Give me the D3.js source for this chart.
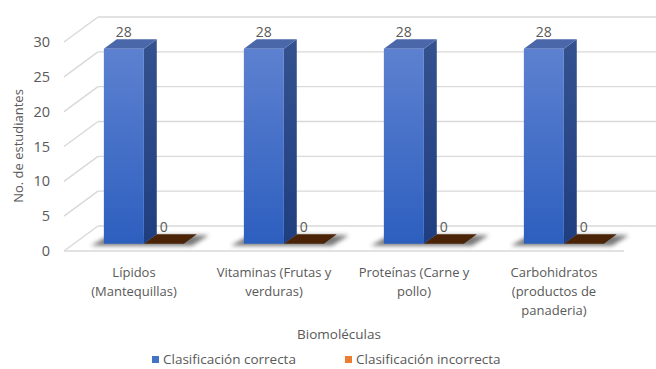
<!DOCTYPE html>
<html>
<head>
<meta charset="utf-8">
<script src="https://cdn.jsdelivr.net/npm/d3@7"></script>
<style>
  html, body { margin: 0; padding: 0; background: #ffffff; }
  svg { display: block; }
  text { font-family: "Open Sans", "Noto Sans", sans-serif; fill: #595959; }
</style>
</head>
<body>
<svg id="chart" width="656" height="369"></svg>
<script>
// ---------- data ----------
const categories = ["Lípidos (Mantequillas)", "Vitaminas (Frutas y verduras)", "Proteínas (Carne y pollo)", "Carbohidratos (productos de panaderia)"];
const categoryLines = [
  ["Lípidos", "(Mantequillas)"],
  ["Vitaminas (Frutas y", "verduras)"],
  ["Proteínas (Carne y", "pollo)"],
  ["Carbohidratos", "(productos de", "panaderia)"]
];
const seriesNames = ["Clasificación correcta", "Clasificación incorrecta"];
const correcta = [28, 28, 28, 28];
const incorrecta = [0, 0, 0, 0];
const yTicks = [0, 5, 10, 15, 20, 25, 30];
const yTitle = "No. de estudiantes";
const xTitle = "Biomoléculas";

// ---------- layout ----------
const svg = d3.select("#chart");
const W = 656, H = 369;
const DX = 34, DY = -25;          // depth vector (front -> back wall)
const D1 = 0.29, D2 = 0.67;        // bar depth span
const x0 = d3.scaleBand().domain(categories).range([64, 624]);
const x1 = d3.scaleBand().domain(seriesNames).range([0, x0.bandwidth()]).paddingInner(0).paddingOuter(0.75);
const y = d3.scaleLinear().domain([0, 30]).range([251, 42]);
const P = (x, yy, d) => [x + d * DX, yy + d * DY];
const poly = pts => pts.map(p => p.join(",")).join(" ");

const defs = svg.append("defs");
const gFront = defs.append("linearGradient").attr("id", "gFront").attr("x1", 0).attr("y1", 0).attr("x2", 0).attr("y2", 1);
gFront.append("stop").attr("offset", 0).attr("stop-color", "#5d81d0");
gFront.append("stop").attr("offset", 1).attr("stop-color", "#2d5fbf");
const gSide = defs.append("linearGradient").attr("id", "gSide").attr("x1", 0).attr("y1", 0).attr("x2", 0).attr("y2", 1);
gSide.append("stop").attr("offset", 0).attr("stop-color", "#35528f");
gSide.append("stop").attr("offset", 1).attr("stop-color", "#1f3e80");
const blur = defs.append("filter").attr("id", "blur").attr("x", "-20%").attr("y", "-50%").attr("width", "140%").attr("height", "200%");
blur.append("feGaussianBlur").attr("stdDeviation", 2.2);

const grid = svg.append("g");
const xL = x0.range()[0], xR = x0.range()[1];
// back wall gridlines and left-side diagonals
yTicks.forEach(v => {
  const f = [xL, y(v)];
  const b = P(xL, y(v), 1);
  grid.append("line").attr("x1", f[0]).attr("y1", f[1]).attr("x2", b[0]).attr("y2", b[1])
    .attr("stroke", "#d9d9d9").attr("stroke-width", 1.4);
  grid.append("line").attr("x1", b[0]).attr("y1", b[1]).attr("x2", W).attr("y2", b[1])
    .attr("stroke", "#d9d9d9").attr("stroke-width", 1.4);
});
// floor front edge
grid.append("line").attr("x1", xL).attr("y1", y(0)).attr("x2", xR).attr("y2", y(0))
  .attr("stroke", "#d9d9d9").attr("stroke-width", 1.4);

// y tick labels
svg.append("g").selectAll("text").data(yTicks).join("text")
  .attr("x", 50).attr("y", d => y(d)).attr("dy", "0.35em")
  .attr("text-anchor", "end").style("font-size", "14.5px").text(d => d);

// y title
svg.append("text").attr("transform", "translate(18,146) rotate(-90)")
  .attr("text-anchor", "middle").attr("dy", "0.35em").style("font-size", "13px").text(yTitle);

// bars
const bars = svg.append("g");
categories.forEach((c, i) => {
  const xa = x0(c) + x1(seriesNames[0]);
  const xb = x0(c) + x1(seriesNames[1]);
  const w = x1.bandwidth();
  const y0 = y(0);
  // shadow
  bars.append("polygon")
    .attr("points", poly([P(xa - 13, y0 + 2, D1), P(xb + w + 8, y0 + 2, D1), P(xb + w + 12, y0 + 1, D2), P(xa - 7, y0 + 1, D2)]))
    .attr("fill", "#6a6a6a").attr("opacity", 0.9).attr("filter", "url(#blur)");

  // incorrect series (value 0 -> flat top)
  const vb = incorrecta[i], yb = y(vb);
  bars.append("polygon")
    .attr("points", poly([P(xb, yb, D1), P(xb + w, yb, D1), P(xb + w, yb, D2), P(xb, yb, D2)]))
    .attr("fill", vb === 0 ? "#4b2408" : "#ed7d31");
  const lb = P(xb + w / 2, yb, D2);
  bars.append("text").attr("x", lb[0] - 13).attr("y", lb[1] - 7).attr("dy", "0.35em")
    .attr("text-anchor", "middle").style("font-size", "14px").text(vb);

  // correct series
  const va = correcta[i], ya = y(va);
  bars.append("polygon")
    .attr("points", poly([P(xa + w, ya, D1), P(xa + w, ya, D2), P(xa + w, y0, D2), P(xa + w, y0, D1)]))
    .attr("fill", "url(#gSide)");
  bars.append("polygon")
    .attr("points", poly([P(xa, ya, D1), P(xa + w, ya, D1), P(xa + w, ya, D2), P(xa, ya, D2)]))
    .attr("fill", "#4a67a9");
  const fa = P(xa, ya, D1), fb = P(xa + w, y0, D1);
  bars.append("rect").attr("x", fa[0]).attr("y", fa[1]).attr("width", fb[0] - fa[0]).attr("height", fb[1] - fa[1])
    .attr("fill", "url(#gFront)");
  const la = P(xa + w / 2, ya, D2);
  bars.append("text").attr("x", la[0] - 13).attr("y", la[1] - 7).attr("dy", "0.35em")
    .attr("text-anchor", "middle").style("font-size", "14px").text(va);
});

// category labels
const catG = svg.append("g");
categories.forEach((c, i) => {
  const cx = x0(c) + x0.bandwidth() / 2;
  const t = catG.append("text").attr("text-anchor", "middle").style("font-size", "13px");
  categoryLines[i].forEach((ln, k) => {
    t.append("tspan").attr("x", cx).attr("y", 272 + k * 19).attr("dy", "0.35em").text(ln);
  });
});

// x title
svg.append("text").attr("x", 339).attr("y", 334).attr("dy", "0.35em")
  .attr("text-anchor", "middle").style("font-size", "13.5px").text(xTitle);

// legend
const legendColors = ["#4472c4", "#ed7d31"];
const legendX = [152, 345];
const lg = svg.append("g");
seriesNames.forEach((s, i) => {
  lg.append("rect").attr("x", legendX[i]).attr("y", 356).attr("width", 7).attr("height", 7).attr("fill", legendColors[i]);
  lg.append("text").attr("x", legendX[i] + 11).attr("y", 359).attr("dy", "0.35em")
    .style("font-size", "13.5px").text(s);
});
</script>
</body>
</html>
